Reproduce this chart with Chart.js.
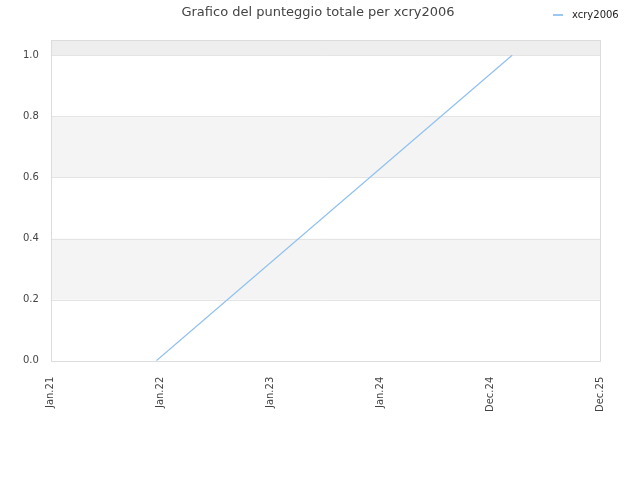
<!DOCTYPE html>
<html>
<head>
<meta charset="utf-8">
<script src="https://cdn.jsdelivr.net/npm/chart.js@4.4.0/dist/chart.umd.min.js"></script>
<style>
  body { margin: 0; background: #fff; font-family: "DejaVu Sans", sans-serif; }
  #wrap { position: relative; width: 640px; height: 480px; }
  #title { position: absolute; top: 4px; left: 0; width: 636px; text-align: center; font-size: 13px; color: #444; }
  #legend { position: absolute; top: 9px; left: 553px; font-size: 10px; color: #222; }
  #legend span { display: inline-block; width: 10px; height: 2px; background: #9ac8f2; vertical-align: middle; margin-right: 9px; }
</style>
</head>
<body>
<div id="wrap">
  <canvas id="scoreChart" width="640" height="480"></canvas>
  <div id="title">Grafico del punteggio totale per xcry2006</div>
  <div id="legend"><span></span>xcry2006</div>
</div>
<script>
// tick labels along the x axis (one per step)
const xLabels = ['Jan.21', 'Jan.22', 'Jan.23', 'Jan.24', 'Dec.24', 'Dec.25'];
// series: position on the x axis and total score
const xPositions = [0.96, 4.2];
const scores = [0, 1];
// shaded bands [from, to, colour]
const bands = [[0.2, 0.4, '#f4f4f4'], [0.6, 0.8, '#f4f4f4'], [1.0, 1.05, '#eeeeee']];

const bandPlugin = {
  id: 'bands',
  beforeDatasetsDraw(chart) {
    const { ctx, chartArea: a, scales: { y } } = chart;
    ctx.save();
    bands.forEach(([from, to, color]) => {
      const top = y.getPixelForValue(to);
      const bottom = y.getPixelForValue(from);
      ctx.fillStyle = color;
      ctx.fillRect(a.left, top, a.right - a.left, bottom - top);
    });
    // grid lines over the bands
    ctx.strokeStyle = '#e4e4e4';
    ctx.lineWidth = 1;
    y.ticks.forEach(t => {
      const py = Math.round(y.getPixelForValue(t.value)) + 0.5;
      ctx.beginPath();
      ctx.moveTo(a.left, py);
      ctx.lineTo(a.right, py);
      ctx.stroke();
    });
    ctx.strokeStyle = '#dcdcdc';
    ctx.strokeRect(Math.round(a.left) + 0.5, Math.round(a.top) + 0.5,
      Math.round(a.right - a.left), Math.round(a.bottom - a.top));
    ctx.restore();
  }
};

new Chart(document.getElementById('scoreChart').getContext('2d'), {
  type: 'line',
  data: {
    datasets: [{
      label: 'xcry2006',
      data: xPositions.map((x, i) => ({ x: x, y: scores[i] })),
      borderColor: '#90c0f0',
      borderWidth: 1.2,
      pointRadius: 0,
      fill: false,
      tension: 0
    }]
  },
  options: {
    responsive: false,
    animation: false,
    layout: { padding: { top: 40, right: 40, left: 11, bottom: 60 } },
    plugins: {
      legend: { display: false },
      title: { display: false },
      tooltip: { enabled: false }
    },
    scales: {
      x: {
        type: 'linear',
        min: 0,
        max: xLabels.length - 1,
        grid: { display: false },
        border: { display: false },
        ticks: {
          stepSize: 1,
          autoSkip: false,
          minRotation: 90,
          maxRotation: 90,
          padding: 8,
          color: '#444',
          font: { family: 'DejaVu Sans', size: 10 },
          callback: v => xLabels[v]
        }
      },
      y: {
        min: 0,
        max: 1.05,
        grid: { display: false, drawTicks: false },
        border: { display: false },
        ticks: {
          stepSize: 0.2,
          includeBounds: false,
          padding: 12,
          color: '#444',
          font: { family: 'DejaVu Sans', size: 10 },
          callback: v => v.toFixed(1)
        }
      }
    }
  },
  plugins: [bandPlugin]
});
</script>
</body>
</html>
